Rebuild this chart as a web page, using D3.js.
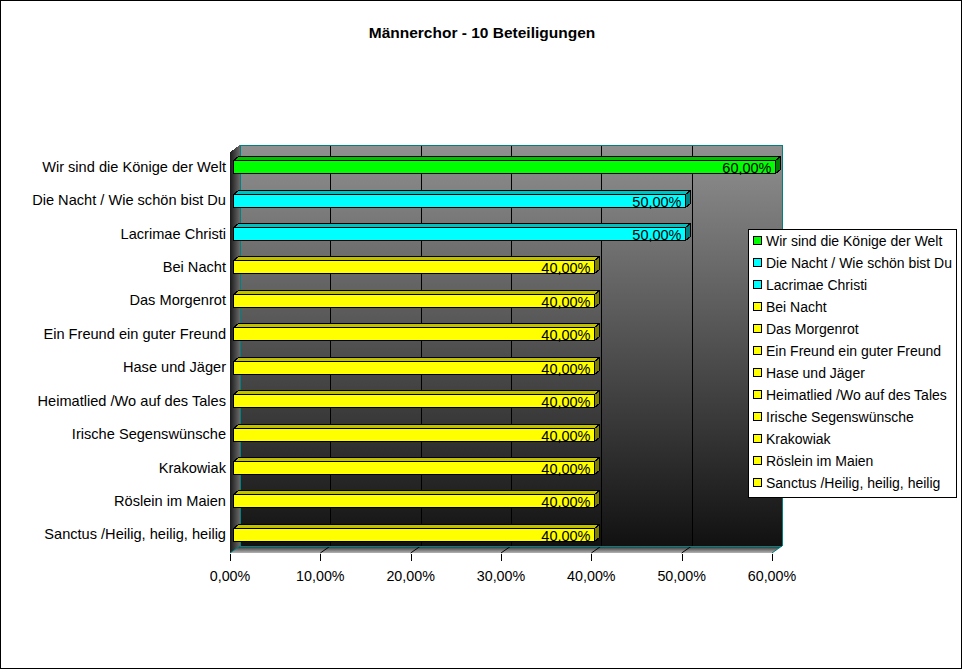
<!DOCTYPE html>
<html>
<head>
<meta charset="utf-8">
<script src="https://cdn.jsdelivr.net/npm/d3@7"></script>
<style>
  body { margin: 0; background: #fff; }
  svg text { font-family: "Liberation Sans", Arial, sans-serif; }
</style>
</head>
<body>
<div id="chart"></div>
<script>
const chartTitle = 'Männerchor - 10 Beteiligungen';

const categories = [
  'Wir sind die Könige der Welt',
  'Die Nacht / Wie schön bist Du',
  'Lacrimae Christi',
  'Bei Nacht',
  'Das Morgenrot',
  'Ein Freund ein guter Freund',
  'Hase und Jäger',
  'Heimatlied /Wo auf des Tales',
  'Irische Segenswünsche',
  'Krakowiak',
  'Röslein im Maien',
  'Sanctus /Heilig, heilig, heilig'
];

const values = [0.6, 0.5, 0.5, 0.4, 0.4, 0.4, 0.4, 0.4, 0.4, 0.4, 0.4, 0.4];

const tickValues = [0, 0.1, 0.2, 0.3, 0.4, 0.5, 0.6];

// colour by value level, as in the original workbook
const levelColors = { 0.6: ['#00ff00', '#00c000', '#008000'],
                      0.5: ['#00ffff', '#00c0c0', '#008080'],
                      0.4: ['#ffff00', '#c0c000', '#808000'] };

function drawChart() {
  var width = 962, height = 669;
  var dx = 10, dy = -7;          // depth of the 3D box
  var bdx = 5, bdy = -4;         // depth of one bar
  var edge = '#008080';

  var locale = d3.formatLocale({decimal: ',', thousands: '.', grouping: [3], currency: ['', '€']});
  var pct = locale.format('.2%');

  var x = d3.scaleLinear().domain([0, 0.6]).range([230, 772]);
  var y = d3.scaleBand().domain(categories).range([152, 553]);

  var svg = d3.select('#chart').append('svg')
      .attr('width', width)
      .attr('height', height)
      .attr('shape-rendering', 'crispEdges');

  var defs = svg.append('defs');
  var wall = defs.append('linearGradient').attr('id', 'wall')
      .attr('x1', 0).attr('y1', 0).attr('x2', 0).attr('y2', 1);
  wall.append('stop').attr('offset', '0%').attr('stop-color', '#909090');
  wall.append('stop').attr('offset', '100%').attr('stop-color', '#111111');

  var side = defs.append('linearGradient').attr('id', 'side')
      .attr('x1', 0).attr('y1', 0).attr('x2', 1).attr('y2', 0);
  side.append('stop').attr('offset', '0%').attr('stop-color', '#1a1a1a');
  side.append('stop').attr('offset', '100%').attr('stop-color', '#6a6a6a');

  var floor = defs.append('linearGradient').attr('id', 'floor')
      .attr('x1', 0).attr('y1', 0).attr('x2', 0).attr('y2', 1);
  floor.append('stop').attr('offset', '0%').attr('stop-color', '#2a2a2a');
  floor.append('stop').attr('offset', '100%').attr('stop-color', '#b4b4b4');

  // outer frame
  svg.append('rect')
      .attr('x', 0.5).attr('y', 0.5)
      .attr('width', width - 1).attr('height', height - 1)
      .attr('fill', '#fff').attr('stroke', '#000');

  svg.append('text')
      .attr('x', 482).attr('y', 38)
      .attr('text-anchor', 'middle')
      .attr('font-size', '15.5px')
      .attr('font-weight', 'bold')
      .text(chartTitle);

  var x0 = x(0), x1 = x(0.6), yTop = y.range()[0], yBot = y.range()[1];

  // back wall
  svg.append('rect')
      .attr('x', x0 + dx).attr('y', yTop + dy)
      .attr('width', x1 - x0).attr('height', yBot - yTop)
      .attr('fill', 'url(#wall)');

  // left wall
  svg.append('polygon')
      .attr('points', [[x0, yTop], [x0 + dx, yTop + dy], [x0 + dx, yBot + dy], [x0, yBot]].join(' '))
      .attr('fill', 'url(#side)');

  // floor
  svg.append('polygon')
      .attr('points', [[x0, yBot], [x0 + dx, yBot + dy], [x1 + dx, yBot + dy], [x1, yBot]].join(' '))
      .attr('fill', 'url(#floor)');

  // grid lines on wall and floor
  svg.selectAll('.vgrid')
      .data(tickValues.slice(1, -1))
      .enter().append('line')
      .attr('class', 'vgrid')
      .attr('x1', d => Math.round(x(d) + dx) + 0.5).attr('x2', d => Math.round(x(d) + dx) + 0.5)
      .attr('y1', yTop + dy).attr('y2', yBot + dy)
      .attr('stroke', '#000');

  svg.selectAll('.fgrid')
      .data(tickValues.slice(1, -1))
      .enter().append('line')
      .attr('class', 'fgrid')
      .attr('x1', d => x(d)).attr('x2', d => x(d) + dx)
      .attr('y1', yBot).attr('y2', yBot + dy)
      .attr('shape-rendering', 'auto')
      .attr('stroke', '#000');

  // teal edges of the box
  var ed = svg.append('g').attr('stroke', edge).attr('fill', 'none');
  ed.append('polyline')
      .attr('points', [[x0 + dx + 0.5, yBot + dy], [x0 + dx + 0.5, yTop + dy + 0.5], [x1 + dx + 0.5, yTop + dy + 0.5], [x1 + dx + 0.5, yBot + dy]].join(' '));
  ed.append('line')
      .attr('x1', x0 + dx).attr('x2', x1 + dx)
      .attr('y1', yBot + dy + 0.5).attr('y2', yBot + dy + 0.5);
  ed.append('line')
      .attr('shape-rendering', 'auto')
      .attr('x1', x1 + dx).attr('y1', yBot + dy)
      .attr('x2', x1).attr('y2', yBot);
  ed.append('line')
      .attr('shape-rendering', 'auto')
      .attr('x1', x0 + dx).attr('y1', yBot + dy)
      .attr('x2', x0).attr('y2', yBot);

  // bars
  var bh = 13;
  var bars = svg.selectAll('.bar')
      .data(categories.map((c, i) => ({cat: c, v: values[i]})))
      .enter().append('g')
      .attr('class', 'bar')
      .attr('stroke', '#000');

  bars.each(function(d) {
    var g = d3.select(this);
    var cols = levelColors[d.v];
    var l = Math.round(x(0) + 3) + 0.5;
    var r = Math.round(x(d.v) + 3) + 0.5;
    var cy = y(d.cat) + y.bandwidth() / 2 - 2;
    var t = Math.round(cy - bh / 2) + 0.5;
    var b = t + bh;
    g.append('polygon')
        .attr('points', [[l, t], [l + bdx, t + bdy], [r + bdx, t + bdy], [r, t]].join(' '))
        .attr('fill', cols[1]);
    g.append('polygon')
        .attr('points', [[r, t], [r + bdx, t + bdy], [r + bdx, b + bdy], [r, b]].join(' '))
        .attr('fill', cols[2]);
    g.append('rect')
        .attr('x', l).attr('y', t)
        .attr('width', r - l).attr('height', bh)
        .attr('fill', cols[0]);
    g.append('text')
        .attr('x', r - 4).attr('y', b - 1)
        .attr('text-anchor', 'end')
        .attr('stroke', 'none')
        .attr('fill', '#000')
        .attr('font-size', '14.5px')
        .text(pct(d.v));
  });

  // category labels
  svg.selectAll('.cat')
      .data(categories)
      .enter().append('text')
      .attr('class', 'cat')
      .attr('x', 226)
      .attr('y', d => y(d) + y.bandwidth() / 2 - 2)
      .attr('dy', '0.35em')
      .attr('text-anchor', 'end')
      .attr('font-size', '14.6px')
      .text(d => d);

  // x axis ticks and labels
  var ax = svg.append('g');
  ax.selectAll('line')
      .data(tickValues)
      .enter().append('line')
      .attr('x1', d => Math.round(x(d)) + 0.5).attr('x2', d => Math.round(x(d)) + 0.5)
      .attr('y1', yBot + 1).attr('y2', yBot + 8)
      .attr('stroke', '#000');
  ax.selectAll('text')
      .data(tickValues)
      .enter().append('text')
      .attr('x', d => x(d))
      .attr('y', 581)
      .attr('text-anchor', 'middle')
      .attr('font-size', '14.3px')
      .text(d => pct(d));

  // legend
  var lg = svg.append('g').attr('transform', 'translate(748,229)');
  lg.append('rect')
      .attr('x', 0.5).attr('y', 0.5)
      .attr('width', 208).attr('height', 268)
      .attr('fill', '#fff').attr('stroke', '#000');
  var item = lg.selectAll('.item')
      .data(categories.map((c, i) => ({cat: c, v: values[i]})))
      .enter().append('g')
      .attr('class', 'item')
      .attr('transform', (d, i) => 'translate(0,' + (12 + i * 22) + ')');
  item.append('rect')
      .attr('x', 5.5).attr('y', -4.5)
      .attr('width', 8).attr('height', 8)
      .attr('fill', d => levelColors[d.v][0])
      .attr('stroke', '#000');
  item.append('text')
      .attr('x', 18).attr('y', 0)
      .attr('dy', '0.35em')
      .attr('font-size', '14px')
      .text(d => d.cat);
}

drawChart();
</script>
</body>
</html>
